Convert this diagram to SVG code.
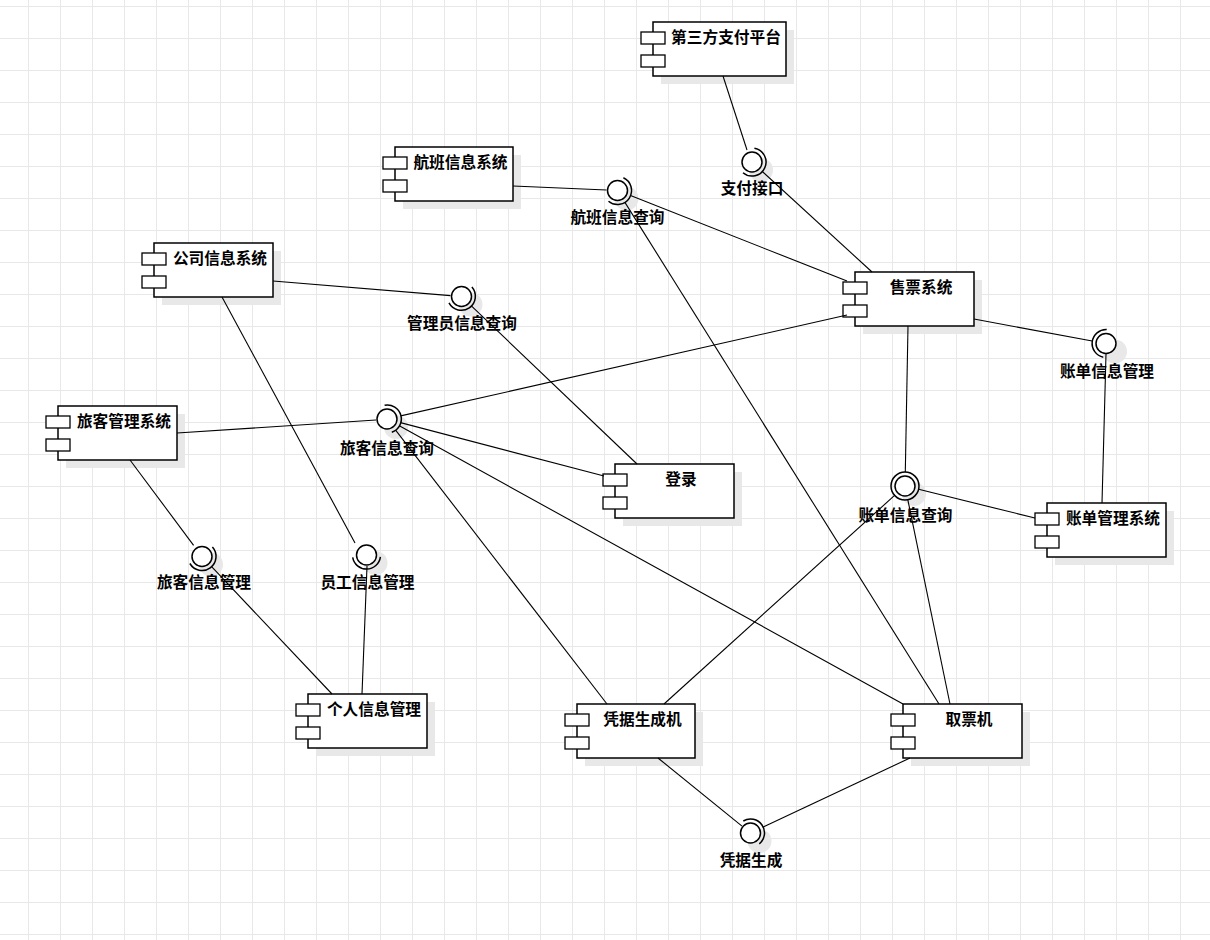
<svg xmlns="http://www.w3.org/2000/svg" width="1210" height="940" viewBox="0 0 1210 940">
<defs>
<pattern id="grid" x="28" y="6" width="32" height="32" patternUnits="userSpaceOnUse">
<path d="M0.5 0 V32 M0 0.5 H32" stroke="#e8e8e8" stroke-width="1" fill="none"/>
</pattern>
<style>
.box{fill:#fff;stroke:#000;stroke-width:1.5}
.port{fill:#fff;stroke:#000;stroke-width:1.3}
.shadow{fill:#e8e8e8}
.ishadow{fill:#e8e8e8}
.ball{fill:#fff;stroke:#000;stroke-width:1.5}
.sock{fill:none;stroke:#000;stroke-width:1.5}
text{font-family:"Liberation Sans","Noto Sans CJK SC",sans-serif;font-weight:bold;font-size:15.7px;fill:#000;text-anchor:middle}
.edge{stroke:#000;stroke-width:1.1;fill:none}
</style>
</defs>
<rect width="1210" height="940" fill="#fff"/>
<rect width="1210" height="940" fill="url(#grid)"/>

<!-- components -->
<g id="n-disanfang" transform="translate(653,22)"><rect class="shadow" x="8" y="8" width="133" height="54"/><rect class="box" width="133" height="54"/><rect class="port" x="-12" y="10" width="24" height="12"/><rect class="port" x="-12" y="33" width="24" height="12"/><text x="73" y="21">第三方支付平台</text></g>
<g id="n-hangban" transform="translate(395,147)"><rect class="shadow" x="8" y="8" width="118" height="54"/><rect class="box" width="118" height="54"/><rect class="port" x="-12" y="10" width="24" height="12"/><rect class="port" x="-12" y="33" width="24" height="12"/><text x="65.5" y="21">航班信息系统</text></g>
<g id="n-gongsi" transform="translate(154,243)"><rect class="shadow" x="8" y="8" width="119" height="54"/><rect class="box" width="119" height="54"/><rect class="port" x="-12" y="10" width="24" height="12"/><rect class="port" x="-12" y="33" width="24" height="12"/><text x="66" y="21">公司信息系统</text></g>
<g id="n-lvke" transform="translate(58,406)"><rect class="shadow" x="8" y="8" width="119" height="54"/><rect class="box" width="119" height="54"/><rect class="port" x="-12" y="10" width="24" height="12"/><rect class="port" x="-12" y="33" width="24" height="12"/><text x="66" y="21">旅客管理系统</text></g>
<g id="n-shoupiao" transform="translate(855,272)"><rect class="shadow" x="8" y="8" width="119" height="54"/><rect class="box" width="119" height="54"/><rect class="port" x="-12" y="10" width="24" height="12"/><rect class="port" x="-12" y="33" width="24" height="12"/><text x="66" y="21">售票系统</text></g>
<g id="n-denglu" transform="translate(615,464)"><rect class="shadow" x="8" y="8" width="119" height="54"/><rect class="box" width="119" height="54"/><rect class="port" x="-12" y="10" width="24" height="12"/><rect class="port" x="-12" y="33" width="24" height="12"/><text x="66" y="21">登录</text></g>
<g id="n-zhangdan" transform="translate(1047,503)"><rect class="shadow" x="8" y="8" width="119" height="54"/><rect class="box" width="119" height="54"/><rect class="port" x="-12" y="10" width="24" height="12"/><rect class="port" x="-12" y="33" width="24" height="12"/><text x="66" y="21">账单管理系统</text></g>
<g id="n-geren" transform="translate(308,694)"><rect class="shadow" x="8" y="8" width="119" height="54"/><rect class="box" width="119" height="54"/><rect class="port" x="-12" y="10" width="24" height="12"/><rect class="port" x="-12" y="33" width="24" height="12"/><text x="66" y="21">个人信息管理</text></g>
<g id="n-pingju" transform="translate(577,704)"><rect class="shadow" x="8" y="8" width="118" height="54"/><rect class="box" width="118" height="54"/><rect class="port" x="-12" y="10" width="24" height="12"/><rect class="port" x="-12" y="33" width="24" height="12"/><text x="65.5" y="21">凭据生成机</text></g>
<g id="n-qupiao" transform="translate(903,704)"><rect class="shadow" x="8" y="8" width="119" height="54"/><rect class="box" width="119" height="54"/><rect class="port" x="-12" y="10" width="24" height="12"/><rect class="port" x="-12" y="33" width="24" height="12"/><text x="66" y="21">取票机</text></g>

<!-- interfaces -->
<g id="i-zhifu"><circle class="ishadow" cx="761" cy="170" r="12"/><path class="sock" d="M754.4,148.2 A14,14 0 1 1 743.0,172.7"/><circle class="ball" cx="752" cy="162" r="10"/><text x="752" y="194">支付接口</text></g>
<g id="i-hangbanchaxun"><circle class="ishadow" cx="626.5" cy="198.5" r="12"/><path class="sock" d="M623.4,177.8 A14,14 0 1 1 608.5,201.2"/><circle class="ball" cx="617.5" cy="190.5" r="10"/><text x="617.5" y="223">航班信息查询</text></g>
<g id="i-guanliyuan"><circle class="ishadow" cx="470.5" cy="304.5" r="12"/><path class="sock" d="M471.9,287.1 A14,14 0 1 1 449.0,302.9"/><circle class="ball" cx="461.5" cy="296.5" r="10"/><text x="462" y="329">管理员信息查询</text></g>
<g id="i-lvkechaxun"><circle class="ishadow" cx="396" cy="427" r="12"/><path class="sock" d="M384.6,405.2 A14,14 0 0 1 391.8,432.2"/><circle class="ball" cx="387" cy="419" r="10"/><text x="387" y="454">旅客信息查询</text></g>
<g id="i-zhangdanguanli"><circle class="ishadow" cx="1115" cy="351.5" r="12"/><path class="sock" d="M1103.3,357.2 A14,14 0 0 1 1106.7,329.5"/><circle class="ball" cx="1106" cy="343.5" r="10"/><text x="1107" y="377">账单信息管理</text></g>
<g id="i-zhangdanchaxun"><circle class="ishadow" cx="914" cy="494" r="12"/><circle class="sock" cx="905" cy="486" r="14"/><circle class="ball" cx="905" cy="486" r="10"/><text x="905.5" y="521">账单信息查询</text></g>
<g id="i-lvkeguanli"><circle class="ishadow" cx="211" cy="564.5" r="12"/><path class="sock" d="M212.4,547.1 A14,14 0 1 1 189.9,563.5"/><circle class="ball" cx="202" cy="556.5" r="10"/><text x="204" y="588">旅客信息管理</text></g>
<g id="i-yuangong"><circle class="ishadow" cx="375.5" cy="563" r="12"/><path class="sock" d="M380.4,556.9 A14,14 0 0 1 352.7,557.4"/><circle class="ball" cx="366.5" cy="555" r="10"/><text x="367.5" y="588">员工信息管理</text></g>
<g id="i-pingjushengcheng"><circle class="ishadow" cx="759.5" cy="841" r="12"/><path class="sock" d="M743.3,821.0 A14,14 0 0 1 759.3,843.9"/><circle class="ball" cx="750.5" cy="833" r="10"/><text x="751" y="866">凭据生成</text></g>

<!-- connectors -->
<g id="edges">
<line class="edge" x1="723" y1="76" x2="747" y2="150"/>
<line class="edge" x1="762.3" y1="171.5" x2="872" y2="272"/>
<line class="edge" x1="513" y1="186" x2="606.5" y2="190"/>
<line class="edge" x1="630.5" y1="195.6" x2="847" y2="281"/>
<line class="edge" x1="624.9" y1="202.4" x2="939" y2="704"/>
<line class="edge" x1="273" y1="281" x2="450.5" y2="295.6"/>
<line class="edge" x1="471.6" y1="306.2" x2="637" y2="464"/>
<line class="edge" x1="222" y1="297" x2="355" y2="543"/>
<line class="edge" x1="367" y1="566" x2="362" y2="694"/>
<line class="edge" x1="130" y1="460" x2="193.6" y2="545.3"/>
<line class="edge" x1="211.6" y1="566.7" x2="332" y2="694"/>
<line class="edge" x1="177" y1="433" x2="376" y2="420"/>
<line class="edge" x1="400.7" y1="415.9" x2="847" y2="315"/>
<line class="edge" x1="400.5" y1="422.6" x2="604" y2="476"/>
<line class="edge" x1="399.3" y1="425.8" x2="903" y2="704"/>
<line class="edge" x1="395.6" y1="430.1" x2="607" y2="704"/>
<line class="edge" x1="908" y1="326" x2="905.3" y2="472"/>
<line class="edge" x1="974" y1="319" x2="1092.2" y2="341"/>
<line class="edge" x1="1106" y1="354" x2="1102" y2="503"/>
<line class="edge" x1="918.6" y1="489.3" x2="1035" y2="518"/>
<line class="edge" x1="894.6" y1="495.4" x2="664" y2="704"/>
<line class="edge" x1="907.8" y1="499.7" x2="950" y2="704"/>
<line class="edge" x1="658" y1="758" x2="742" y2="826.1"/>
<line class="edge" x1="763.2" y1="827" x2="910" y2="758"/>
</g>
</svg>
